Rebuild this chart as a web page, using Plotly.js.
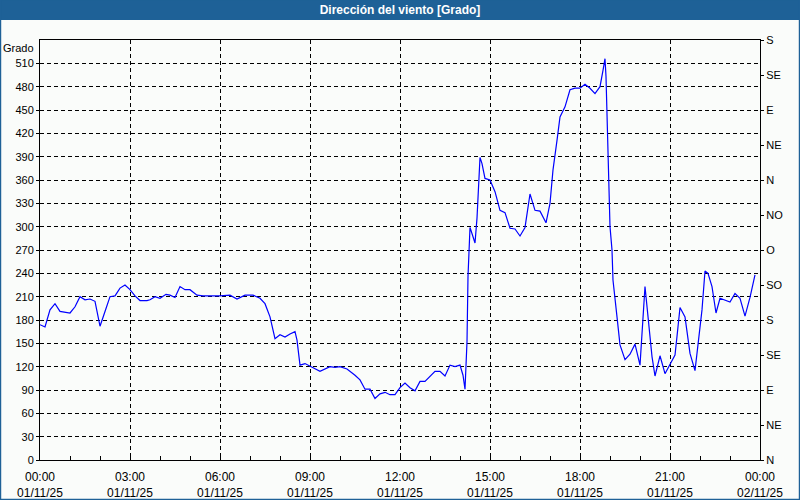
<!DOCTYPE html>
<html>
<head>
<meta charset="utf-8">
<script src="https://cdn.plot.ly/plotly-3.0.1.min.js"></script>
<style>
html,body{margin:0;padding:0;background:#fafcfa;}
#chart{width:800px;height:500px;}
</style>
</head>
<body>
<div id="chart"></div>
<script>
const day = '2025-11-01';
const times = ['00:00','00:10','00:20','00:30','00:40','01:00','01:10','01:20','01:30','01:40','01:50',
'02:00','02:10','02:20','02:30','02:40','02:50','03:00','03:10','03:20','03:34','03:40','03:50',
'04:00','04:12','04:20','04:30','04:40','04:50','05:00','05:14','05:26','05:44','06:00','06:20','06:34','06:50',
'07:06','07:20','07:30','07:40','07:50','08:00','08:10','08:20','08:30','08:34','08:40','08:50',
'09:00','09:20','09:40','09:50','10:00','10:14','10:30','10:40','10:50','11:00','11:10','11:20','11:30','11:40','11:50',
'12:00','12:10','12:20','12:30','12:40','12:50','13:00','13:10','13:20','13:30','13:40','13:50',
'14:00','14:06','14:10','14:14','14:16','14:20','14:26','14:30','14:34','14:38','14:40','14:44','14:50',
'15:00','15:10','15:20','15:30','15:40','15:50','16:00','16:10','16:20','16:30','16:40','16:52',
'17:00','17:06','17:14','17:20','17:30','17:40','17:50','18:00','18:10','18:20','18:30','18:40','18:46','18:50','18:52','18:54','18:56','18:58',
'19:00','19:04','19:06','19:14','19:20','19:30','19:40','19:50','19:56','20:00','20:10','20:16','20:24','20:30','20:40','20:50',
'21:00','21:10','21:14','21:20','21:30','21:40','21:50','21:56','22:04','22:10','22:16','22:24','22:32','22:40','22:50',
'23:00','23:10','23:20','23:30','23:40','23:50'];
const direction = [174,171,193,201,191,189,197,210,206,207,204,
172,191,210,211,221,225,219,211,205,205,206,210,
208,213,212,209,223,219,219,212,211,211,211,212,207,212,
212,208,201,184,156,161,158,162,165,154,122,124,
121,114,120,119,120,117,109,103,91,91,79,85,87,84,84,
93,99,93,89,101,101,108,114,114,108,122,120,
122,109,91,152,236,299,287,279,311,379,389,381,362,
360,345,321,318,298,297,288,299,342,321,320,305,
330,373,411,441,454,476,478,478,483,478,471,480,501,516,493,441,394,347,
300,270,231,184,148,129,136,149,131,122,223,180,133,108,134,111,
124,135,159,196,184,137,115,146,193,243,240,223,189,208,206,
203,214,208,185,209,238];

const xTickVals = ['2025-11-01 00:00','2025-11-01 03:00','2025-11-01 06:00','2025-11-01 09:00','2025-11-01 12:00',
'2025-11-01 15:00','2025-11-01 18:00','2025-11-01 21:00','2025-11-02 00:00'];
const xTickTimes = ['00:00','03:00','06:00','09:00','12:00','15:00','18:00','21:00','00:00'];
const xTickDates = ['01/11/25','01/11/25','01/11/25','01/11/25','01/11/25','01/11/25','01/11/25','01/11/25','02/11/25'];
const leftTicks = [0,30,60,90,120,150,180,210,240,270,300,330,360,390,420,450,480,510];
const rightTickVals = [0,45,90,135,180,225,270,315,360,405,450,495,540];
const rightTickText = ['N','NE','E','SE','S','SO','O','NO','N','NE','E','SE','S'];

const x = times.map(t => day + ' ' + t);
const font = {family: 'Liberation Sans, Arial, sans-serif', size: 11, color: '#000'};
const xfont = {family: 'Liberation Sans, Arial, sans-serif', size: 12, color: '#000'};
const frame = '#1e6197';

const trace = {
  x: x, y: direction, type: 'scatter', mode: 'lines',
  line: {color: '#0000ff', width: 1.2}, hoverinfo: 'x+y', showlegend: false
};

const layout = {
  width: 800, height: 500,
  margin: {l: 40, r: 40, t: 40, b: 40},
  paper_bgcolor: '#fafcfa', plot_bgcolor: '#fafcfa',
  font: font,
  showlegend: false,
  title: {text: 'Dirección del viento [Grado]', x: 0.5, xanchor: 'center', y: 0.98, yanchor: 'middle',
          yref: 'container', font: {family: 'Liberation Sans, Arial, sans-serif', size: 12, color: '#ffffff', weight: 'bold'}},
  xaxis: {
    type: 'date', range: ['2025-11-01 00:00', '2025-11-02 00:00'],
    tickmode: 'array', tickvals: xTickVals,
    ticktext: xTickTimes.map((t, i) => t + '<br>' + xTickDates[i]),
    showgrid: true, gridcolor: '#000', griddash: '4px,3px', gridwidth: 1,
    showline: true, linecolor: '#000', linewidth: 1, mirror: true,
    ticks: 'inside', ticklen: 4, tickcolor: '#000', ticklabelstandoff: 6,
    minor: {dtick: 3600000, ticks: 'inside', ticklen: 4, tickcolor: '#000', showgrid: false},
    zeroline: false, tickfont: xfont, fixedrange: true
  },
  yaxis: {
    range: [0, 540], tickmode: 'array', tickvals: leftTicks,
    showgrid: true, gridcolor: '#000', griddash: '4px,3px', gridwidth: 1,
    showline: true, linecolor: '#000', linewidth: 1, mirror: true,
    ticks: 'outside', ticklen: 3, tickcolor: '#000',
    zeroline: false, tickfont: font, fixedrange: true
  },
  yaxis2: {
    overlaying: 'y', side: 'right', range: [0, 540],
    tickmode: 'array', tickvals: rightTickVals, ticktext: rightTickText,
    showgrid: false, zeroline: false, showline: true, linecolor: '#000',
    ticks: 'outside', ticklen: 3, tickcolor: '#000', tickfont: font, fixedrange: true
  },
  annotations: [{
    text: 'Grado', xref: 'paper', yref: 'paper', x: -0.006, y: 1.0, xanchor: 'right', yanchor: 'top',
    showarrow: false, font: font
  }],
  shapes: [
    {type: 'rect', xref: 'paper', yref: 'paper', x0: -0.0556, x1: 1.0556, y0: 1.0476, y1: 1.0952,
     fillcolor: frame, line: {width: 0}, layer: 'below'},
    {type: 'rect', xref: 'paper', yref: 'paper', x0: -0.0549, x1: 1.0549, y0: -0.0940, y1: 1.0952,
     fillcolor: 'rgba(0,0,0,0)', line: {color: frame, width: 1.5}, layer: 'above'}
  ]
};

const yaxis2Trace = {x: [x[0]], y: [null], yaxis: 'y2', type: 'scatter', mode: 'lines', showlegend: false, hoverinfo: 'skip'};

Plotly.newPlot('chart', [trace, yaxis2Trace], layout, {displayModeBar: false, staticPlot: true});
</script>
</body>
</html>
